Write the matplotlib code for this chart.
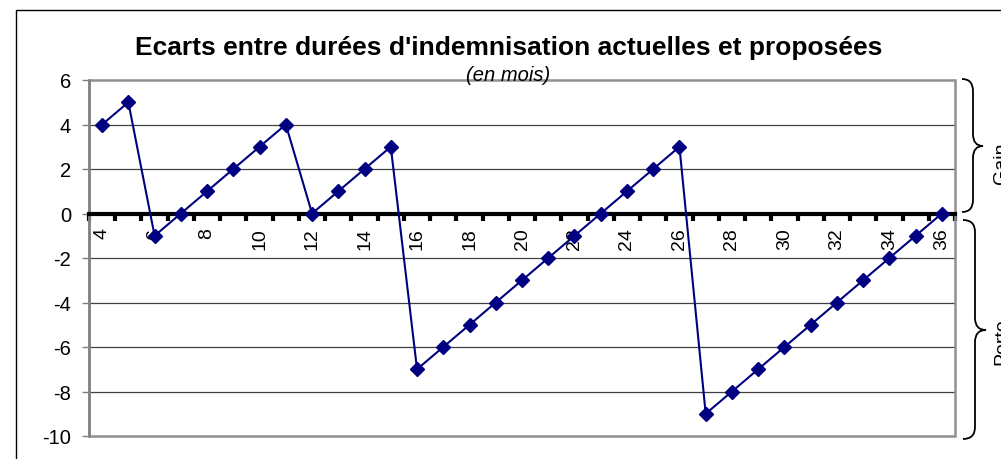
import matplotlib
matplotlib.use('Agg')
import matplotlib.pyplot as plt
from matplotlib.path import Path
from matplotlib.patches import PathPatch, Rectangle

plt.rcParams['font.family'] = ['Liberation Sans', 'DejaVu Sans']

# Données : durée actuelle (mois) et écart avec la durée proposée
mois = list(range(4, 37))
ecarts = [4, 5, -1, 0, 1, 2, 3, 4, 0, 1, 2, 3,
          -7, -6, -5, -4, -3, -2, -1, 0, 1, 2, 3,
          -9, -8, -7, -6, -5, -4, -3, -2, -1, 0]
y_ticks = list(range(-10, 7, 2))
mois_labels = [str(m) for m in mois if m % 2 == 0]

W, H = 1001, 460


def px(x, y):
    # pixels (origine en haut à gauche) -> fraction de figure
    return x / W, 1 - y / H


def accolade(fig, x0, xm, xt, yt, ym, yb, r=12):
    pts = [px(x0, yt), px(xm, yt), px(xm, yt + r),
           px(xm, ym - r), px(xm, ym), px(xt, ym),
           px(xm, ym), px(xm, ym + r),
           px(xm, yb - r), px(xm, yb), px(x0, yb)]
    codes = [Path.MOVETO, Path.CURVE3, Path.CURVE3,
             Path.LINETO, Path.CURVE3, Path.CURVE3,
             Path.CURVE3, Path.CURVE3,
             Path.LINETO, Path.CURVE3, Path.CURVE3]
    fig.patches.append(PathPatch(Path(pts, codes), transform=fig.transFigure,
                                 fill=False, lw=1.3, color='black'))


fig = plt.figure(figsize=(W / 100, H / 100), dpi=100)
ax = fig.add_axes([89 / W, 1 - 437 / H, (955 - 89) / W, (437 - 81) / H])

ax.plot(mois, ecarts, color='#000080', lw=1.5, marker='D', markersize=7,
        markerfacecolor='#000080', markeredgecolor='#000080', zorder=5, clip_on=False)

ax.set_xlim(3.5, 36.5)
ax.set_ylim(-10, 6)

# grille horizontale
for v in y_ticks:
    if v not in (-10, 0, 6):
        ax.axhline(v, color='#404040', lw=0.9, zorder=1)

# cadre gris de la zone de tracé
ax.add_patch(Rectangle((0, 0), 1, 1, transform=ax.transAxes, fill=False,
                       edgecolor='#909090', lw=1.8, zorder=2, clip_on=False))
for s in ['top', 'right']:
    ax.spines[s].set_visible(False)
ax.spines['left'].set_color('#808080')
ax.spines['left'].set_linewidth(1.8)

# axe des x sur le zéro
ax.spines['bottom'].set_position(('data', 0))
ax.spines['bottom'].set_color('black')
ax.spines['bottom'].set_linewidth(3)
ax.spines['bottom'].set_zorder(4)
ax.set_xticks([m - 0.5 for m in mois] + [36.5])
ax.set_xticklabels([])
ax.tick_params(axis='x', which='major', direction='out', length=5, width=3, color='black')
ax.set_xticks([m for m in mois if m % 2 == 0], minor=True)
ax.set_xticklabels(mois_labels, minor=True, rotation=90, fontsize=14)
ax.tick_params(axis='x', which='minor', length=0, pad=10)

ax.set_yticks(y_ticks)
ax.set_yticklabels([str(v) for v in y_ticks], fontsize=14.5)
ax.tick_params(axis='y', direction='out', length=5, width=1, color='#808080', pad=8)

fig.text(509 / W, 1 - 48 / H, "Ecarts entre durées d'indemnisation actuelles et proposées",
         ha='center', va='center', fontsize=19, fontweight='bold')
fig.text(508 / W, 1 - 76 / H, "(en mois)", ha='center', va='center',
         fontsize=14.5, style='italic')

# cadre extérieur
fig.patches.append(Rectangle(px(15.5, 500), (1050 - 15.5) / W, (500 - 10.5) / H,
                             transform=fig.transFigure, fill=False,
                             edgecolor='black', lw=1))

accolade(fig, 962, 973, 983, 80, 147, 213)
accolade(fig, 963, 975, 986, 221, 331, 440)
fig.text(*px(993, 163), "Gain", rotation=90, ha='left', va='center', fontsize=14)
fig.text(*px(993, 342), "Perte", rotation=90, ha='left', va='center', fontsize=14)

fig.savefig('out.png', dpi=100)
